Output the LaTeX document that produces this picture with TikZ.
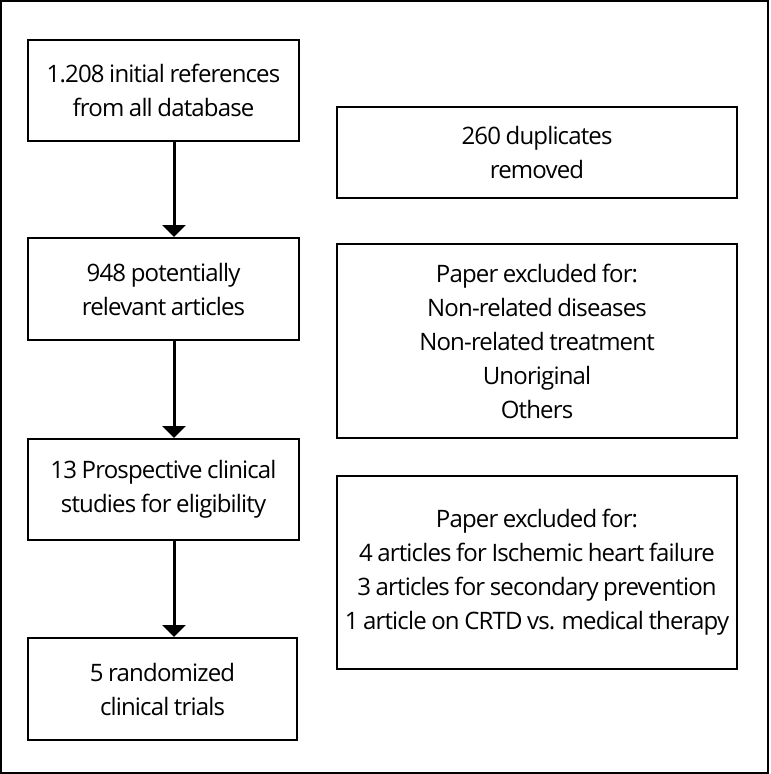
\documentclass[tikz,border=0pt]{standalone}
\usepackage{fontspec}
\setmainfont{Open Sans}[LetterSpace=-3.5,WordSpace=0.85]
\usetikzlibrary{arrows.meta}
\begin{document}
\begin{tikzpicture}[x=1pt,y=-1pt,
  box/.style={draw=black,line width=2pt,rectangle,align=center,inner sep=0pt,
    font=\fontsize{24}{34}\selectfont},
  flow/.style={line width=3pt,-{Triangle[width=23pt,length=12pt]}}]
\useasboundingbox (0,0) rectangle (771,774);
\draw[line width=2pt] (1,1) rectangle (768,773);
\node[box,minimum width=271pt,minimum height=101pt] (b1) at (163.5,90.5) {1.208 initial references\\from all database};
\node[box,minimum width=271pt,minimum height=102pt] (b2) at (163.5,289) {948 potentially\\relevant articles};
\node[box,minimum width=271pt,minimum height=101pt] (b3) at (163.5,489.5) {13 Prospective clinical\\studies for eligibility};
\node[box,minimum width=269pt,minimum height=102pt] (b4) at (162.5,689) {5 randomized\\clinical trials};
\node[box,minimum width=400pt,minimum height=91pt] (r1) at (537,152.5) {260 duplicates\\removed};
\node[box,minimum width=400pt,minimum height=194pt] (r2) at (537,341) {Paper excluded for:\\Non-related diseases\\Non-related treatment\\Unoriginal\\Others};
\node[box,minimum width=400pt,minimum height=193pt] (r3) at (537,572.5) {Paper excluded for:\\4 articles for Ischemic heart failure\\3 articles for secondary prevention\\1 article on CRTD vs. medical therapy};
\draw[flow] ([xshift=10.5pt]b1.south) -- ([xshift=10.5pt]b2.north);
\draw[flow] ([xshift=10.5pt]b2.south) -- ([xshift=10.5pt]b3.north);
\draw[flow] ([xshift=10.5pt]b3.south) -- ([xshift=11.5pt]b4.north);
\end{tikzpicture}
\end{document}
